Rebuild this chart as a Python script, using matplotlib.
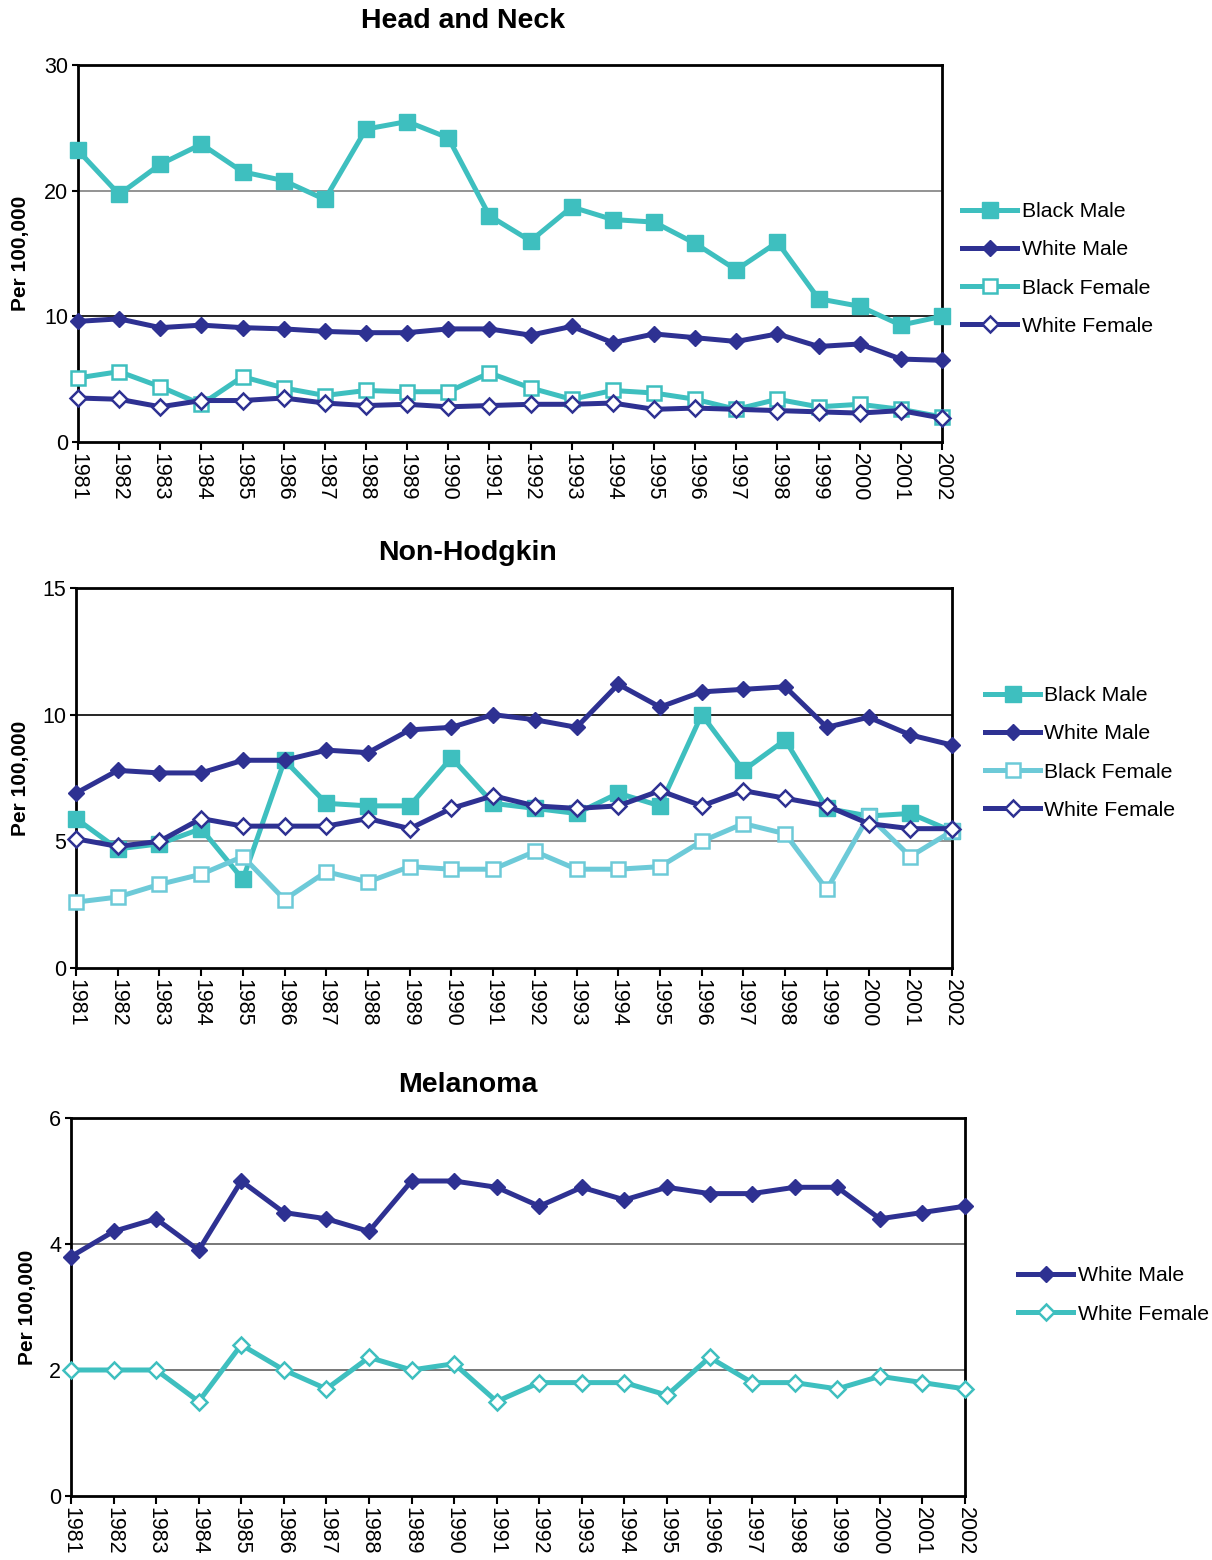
import matplotlib
matplotlib.use("Agg")
import matplotlib.pyplot as plt

plt.rcParams['font.family'] = ['Liberation Sans', 'DejaVu Sans']

years = list(range(1981, 2003))

hn_black_male = [23.2, 19.7, 22.1, 23.7, 21.5, 20.8, 19.3, 24.9, 25.5, 24.2, 18.0,
                 16.0, 18.7, 17.7, 17.5, 15.8, 13.7, 15.9, 11.4, 10.8, 9.3, 10.0]
hn_white_male = [9.6, 9.8, 9.1, 9.3, 9.1, 9.0, 8.8, 8.7, 8.7, 9.0, 9.0,
                 8.5, 9.2, 7.9, 8.6, 8.3, 8.0, 8.6, 7.6, 7.8, 6.6, 6.5]
hn_black_female = [5.1, 5.6, 4.4, 3.0, 5.2, 4.3, 3.7, 4.1, 4.0, 4.0, 5.5,
                   4.3, 3.4, 4.1, 3.9, 3.4, 2.6, 3.4, 2.8, 3.0, 2.6, 2.0]
hn_white_female = [3.5, 3.4, 2.8, 3.3, 3.3, 3.5, 3.1, 2.9, 3.0, 2.8, 2.9,
                   3.0, 3.0, 3.1, 2.6, 2.7, 2.6, 2.5, 2.4, 2.3, 2.5, 1.9]

nhl_black_male = [5.9, 4.7, 4.9, 5.5, 3.5, 8.2, 6.5, 6.4, 6.4, 8.3, 6.5,
                  6.3, 6.1, 6.9, 6.4, 10.0, 7.8, 9.0, 6.3, 6.0, 6.1, 5.4]
nhl_white_male = [6.9, 7.8, 7.7, 7.7, 8.2, 8.2, 8.6, 8.5, 9.4, 9.5, 10.0,
                  9.8, 9.5, 11.2, 10.3, 10.9, 11.0, 11.1, 9.5, 9.9, 9.2, 8.8]
nhl_black_female = [2.6, 2.8, 3.3, 3.7, 4.4, 2.7, 3.8, 3.4, 4.0, 3.9, 3.9,
                    4.6, 3.9, 3.9, 4.0, 5.0, 5.7, 5.3, 3.1, 6.0, 4.4, 5.4]
nhl_white_female = [5.1, 4.8, 5.0, 5.9, 5.6, 5.6, 5.6, 5.9, 5.5, 6.3, 6.8,
                    6.4, 6.3, 6.4, 7.0, 6.4, 7.0, 6.7, 6.4, 5.7, 5.5, 5.5]

mel_white_male = [3.8, 4.2, 4.4, 3.9, 5.0, 4.5, 4.4, 4.2, 5.0, 5.0, 4.9,
                  4.6, 4.9, 4.7, 4.9, 4.8, 4.8, 4.9, 4.9, 4.4, 4.5, 4.6]
mel_white_female = [2.0, 2.0, 2.0, 1.5, 2.4, 2.0, 1.7, 2.2, 2.0, 2.1, 1.5,
                    1.8, 1.8, 1.8, 1.6, 2.2, 1.8, 1.8, 1.7, 1.9, 1.8, 1.7]

TEAL = '#3EBFBF'
NAVY = '#2E3192'
LTEAL = '#6DCAD8'

W, H = 1212, 1560
fig = plt.figure(figsize=(W / 100, H / 100), dpi=100)


def px_axes(l, t, r, b):
    return fig.add_axes([l / W, 1 - b / H, (r - l) / W, (b - t) / H])


def style(ax, title, yticks, gridcolors, title_xy, ylabel_x):
    ax.set_xlim(1981, 2002)
    ax.set_ylim(yticks[0], yticks[-1])
    ax.set_yticks(yticks)
    ax.set_xticks(years)
    ax.set_xticklabels([str(y) for y in years], rotation=270, fontsize=15.5)
    ax.tick_params(axis='y', labelsize=15.5, length=4, width=1.5, direction='out', pad=3)
    ax.tick_params(axis='x', length=6, width=1.5, direction='out', pad=2)
    for yv, c in zip(yticks[1:-1], gridcolors):
        ax.axhline(yv, color=c, lw=1.2, zorder=0)
    for s in ax.spines.values():
        s.set_linewidth(2)
    fig.text(title_xy[0] / W, 1 - title_xy[1] / H, title, fontsize=20.5,
             fontweight='bold', ha='center', va='center')
    ax.set_ylabel('Per 100,000', fontsize=15, fontweight='bold')
    bb = ax.get_position()
    ax.yaxis.set_label_coords((ylabel_x / W - bb.x0) / bb.width, 0.5)


def plot_series(ax, vals, color, marker, filled, label, ms):
    ax.plot(years, vals, color=color, lw=3.6, marker=marker, ms=ms,
            markerfacecolor=color if filled else 'white',
            markeredgecolor=color, markeredgewidth=1.8 if not filled else 1,
            label=label, clip_on=False, zorder=3)


def legend(ax, x, ycenter):
    leg = ax.legend(loc='center left', bbox_to_anchor=(x / W, 1 - ycenter / H),
                    bbox_transform=fig.transFigure, frameon=False, fontsize=15.3,
                    handlelength=2.6, handletextpad=0.2, labelspacing=0.9,
                    borderaxespad=0, borderpad=0)
    return leg


# Panel 1
ax1 = px_axes(78, 65, 942, 442)
plot_series(ax1, hn_black_male, TEAL, 's', True, 'Black Male', 11)
plot_series(ax1, hn_white_male, NAVY, 'D', True, 'White Male', 8.3)
plot_series(ax1, hn_black_female, TEAL, 's', False, 'Black Female', 9.8)
plot_series(ax1, hn_white_female, NAVY, 'D', False, 'White Female', 7.8)
style(ax1, 'Head and Neck', [0, 10, 20, 30], ['black', '#808080'], (463, 21), 30)
legend(ax1, 962, 269)

# Panel 2
ax2 = px_axes(76, 588, 952, 968)
plot_series(ax2, nhl_black_male, TEAL, 's', True, 'Black Male', 11)
plot_series(ax2, nhl_white_male, NAVY, 'D', True, 'White Male', 8.3)
plot_series(ax2, nhl_black_female, LTEAL, 's', False, 'Black Female', 9.8)
plot_series(ax2, nhl_white_female, NAVY, 'D', False, 'White Female', 7.8)
style(ax2, 'Non-Hodgkin', [0, 5, 10, 15], ['#808080', 'black'], (467, 553), 30)
legend(ax2, 985, 753)

# Panel 3
ax3 = px_axes(71, 1118, 965, 1496)
plot_series(ax3, mel_white_male, NAVY, 'D', True, 'White Male', 8.3)
plot_series(ax3, mel_white_female, TEAL, 'D', False, 'White Female', 7.8)
style(ax3, 'Melanoma', [0, 2, 4, 6], ['#606060', '#606060'], (468, 1085), 37)
legend(ax3, 1018, 1295)

fig.savefig('out.png', dpi=100)
